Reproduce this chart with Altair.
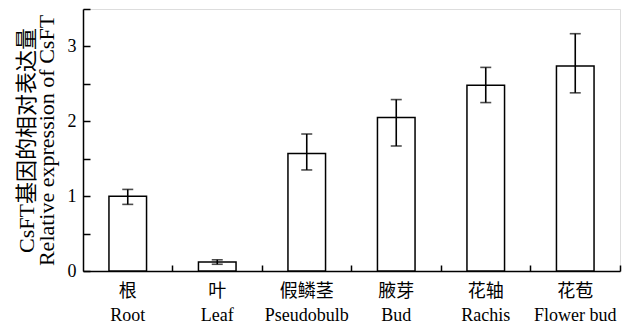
import altair as alt
import pandas as pd

cats_cn = ["根", "叶", "假鳞茎", "腋芽", "花轴", "花苞"]
cats_en = ["Root", "Leaf", "Pseudobulb", "Bud", "Rachis", "Flower bud"]
means = [1.00, 0.12, 1.57, 2.05, 2.48, 2.74]
lows = [0.89, 0.09, 1.35, 1.67, 2.25, 2.38]
highs = [1.09, 0.15, 1.83, 2.29, 2.72, 3.17]

df = pd.DataFrame({
    "cat": [c + "|" + e for c, e in zip(cats_cn, cats_en)],
    "mean": means,
    "lo": lows,
    "hi": highs,
})

FONT = "Liberation Serif, Times New Roman, Noto Sans CJK SC"
order = list(df["cat"])
W, H = 537, 262

xscale = alt.Scale(domain=order, paddingInner=0, paddingOuter=0)
yscale = alt.Scale(domain=[0, 3.5], nice=False, zero=True)

base = alt.Chart(df)

bars = base.mark_bar(width={"band": 0.42}, fill="white", stroke="black", strokeWidth=1.5).encode(
    x=alt.X("cat:N", sort=order, scale=xscale,
            axis=alt.Axis(orient="bottom", title=None, ticks=False, domain=True,
                          domainColor="black", domainWidth=1.5,
                          labelExpr="split(datum.label, '|')", labelAngle=0,
                          labelFont=FONT, labelFontSize=18, labelColor="black",
                          labelLineHeight=24, labelPadding=11, labelBaseline="top")),
    y=alt.Y("mean:Q", scale=yscale,
            axis=alt.Axis(orient="left", values=[0, 1, 2, 3], ticks=False, domain=True,
                          domainColor="black", domainWidth=1.5, grid=False,
                          labelFont=FONT, labelFontSize=18, labelColor="black",
                          labelPadding=7,
                          title=["CsFT基因的相对表达量", "Relative expression of CsFT"],
                          titleFont=FONT, titleFontSize=22, titleFontWeight="normal",
                          titleColor="black", titleLineHeight=20, titlePadding=9)),
)

rules = base.mark_rule(color="black", strokeWidth=1.6).encode(
    x=alt.X("cat:N", sort=order, scale=xscale,
            axis=alt.Axis(orient="top", offset=-H, labels=False, domain=False, title=None,
                          ticks=True, tickSize=6, tickColor="black", tickWidth=1.5,
                          bandPosition=1)),
    y=alt.Y("lo:Q", scale=yscale,
            axis=alt.Axis(orient="right", offset=-W, labels=False, domain=False, grid=False,
                          title=None, values=[0, 0.5, 1, 1.5, 2, 2.5, 3, 3.5],
                          ticks=True, tickSize=7, tickColor="black", tickWidth=1.5)),
    y2="hi:Q",
)

tick_lo = base.mark_tick(color="black", size=11, thickness=1.6).encode(
    x=alt.X("cat:N", sort=order, scale=xscale, axis=None),
    y=alt.Y("lo:Q", scale=yscale, axis=None),
)
tick_hi = base.mark_tick(color="black", size=11, thickness=1.6).encode(
    x=alt.X("cat:N", sort=order, scale=xscale, axis=None),
    y=alt.Y("hi:Q", scale=yscale, axis=None),
)

chart = alt.layer(bars, rules, tick_lo, tick_hi).resolve_axis(
    x="independent", y="independent"
).properties(
    width=W, height=H,
    autosize=alt.AutoSizeParams(type="none"),
    padding={"left": 75, "top": 1, "right": 12, "bottom": 55},
).configure_view(stroke=None).configure(background="white")

chart.save("out.html", embed_options={"renderer": "svg", "actions": False})
